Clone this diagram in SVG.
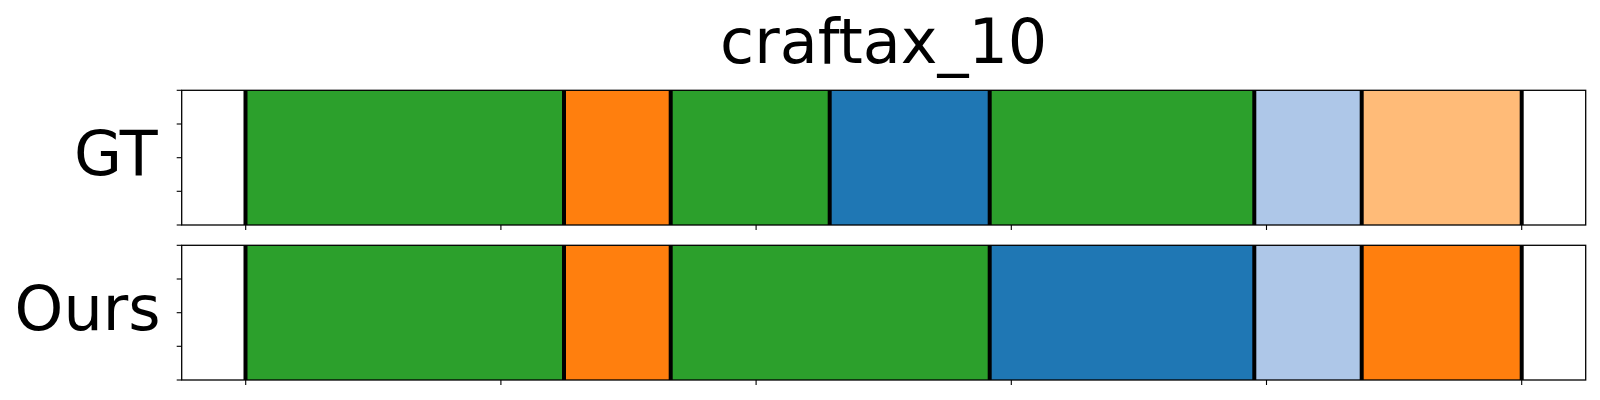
<svg xmlns="http://www.w3.org/2000/svg" width="1600" height="400" viewBox="0 0 1600 400">
<style>
.lbl{font-family:"DejaVu Sans","Liberation Sans",sans-serif;fill:#000}
.frame{fill:none;stroke:#000;stroke-width:1.3}
.tick{stroke:#000;stroke-width:1.1}
.bd{stroke:#000;stroke-width:4}
.g{fill:#2ca02c}.o{fill:#ff7f0e}.b{fill:#1f77b4}.lb{fill:#aec7e8}.lo{fill:#ffbb78}
</style>
<rect width="1600" height="400" fill="#fff"/>
<text class="lbl" x="883.7" y="62.7" font-size="62" text-anchor="middle">craftax_10</text>
<g id="gt">
<text class="lbl" x="157.7" y="175" font-size="62" text-anchor="end">GT</text>
<rect class="g" x="245.5" y="90.3" width="318.5" height="134.7"/>
<rect class="o" x="564" y="90.3" width="106.7" height="134.7"/>
<rect class="g" x="670.7" y="90.3" width="159" height="134.7"/>
<rect class="b" x="829.7" y="90.3" width="160" height="134.7"/>
<rect class="g" x="989.7" y="90.3" width="264.6" height="134.7"/>
<rect class="lb" x="1254.3" y="90.3" width="107.4" height="134.7"/>
<rect class="lo" x="1361.7" y="90.3" width="160" height="134.7"/>
<g class="bd">
<line x1="245.5" y1="90.3" x2="245.5" y2="225"/>
<line x1="564" y1="90.3" x2="564" y2="225"/>
<line x1="670.7" y1="90.3" x2="670.7" y2="225"/>
<line x1="829.7" y1="90.3" x2="829.7" y2="225"/>
<line x1="989.7" y1="90.3" x2="989.7" y2="225"/>
<line x1="1254.3" y1="90.3" x2="1254.3" y2="225"/>
<line x1="1361.7" y1="90.3" x2="1361.7" y2="225"/>
<line x1="1521.7" y1="90.3" x2="1521.7" y2="225"/>
</g>
<rect class="frame" x="181.7" y="90.3" width="1404" height="134.7"/>
<g class="tick">
<line x1="176.7" y1="90.3" x2="181.7" y2="90.3"/>
<line x1="176.7" y1="124" x2="181.7" y2="124"/>
<line x1="176.7" y1="157.7" x2="181.7" y2="157.7"/>
<line x1="176.7" y1="191.3" x2="181.7" y2="191.3"/>
<line x1="176.7" y1="225" x2="181.7" y2="225"/>
<line x1="245.7" y1="225" x2="245.7" y2="230"/>
<line x1="500.9" y1="225" x2="500.9" y2="230"/>
<line x1="756.1" y1="225" x2="756.1" y2="230"/>
<line x1="1011.3" y1="225" x2="1011.3" y2="230"/>
<line x1="1266.5" y1="225" x2="1266.5" y2="230"/>
<line x1="1521.7" y1="225" x2="1521.7" y2="230"/>
</g>
</g>
<g id="ours">
<text class="lbl" x="160.5" y="330" font-size="62" text-anchor="end">Ours</text>
<rect class="g" x="245.5" y="245.3" width="318.5" height="134.7"/>
<rect class="o" x="564" y="245.3" width="106.7" height="134.7"/>
<rect class="g" x="670.7" y="245.3" width="319" height="134.7"/>
<rect class="b" x="989.7" y="245.3" width="264.6" height="134.7"/>
<rect class="lb" x="1254.3" y="245.3" width="107.4" height="134.7"/>
<rect class="o" x="1361.7" y="245.3" width="160" height="134.7"/>
<g class="bd">
<line x1="245.5" y1="245.3" x2="245.5" y2="380"/>
<line x1="564" y1="245.3" x2="564" y2="380"/>
<line x1="670.7" y1="245.3" x2="670.7" y2="380"/>
<line x1="989.7" y1="245.3" x2="989.7" y2="380"/>
<line x1="1254.3" y1="245.3" x2="1254.3" y2="380"/>
<line x1="1361.7" y1="245.3" x2="1361.7" y2="380"/>
<line x1="1521.7" y1="245.3" x2="1521.7" y2="380"/>
</g>
<rect class="frame" x="181.7" y="245.3" width="1404" height="134.7"/>
<g class="tick">
<line x1="176.7" y1="245.3" x2="181.7" y2="245.3"/>
<line x1="176.7" y1="279" x2="181.7" y2="279"/>
<line x1="176.7" y1="312.7" x2="181.7" y2="312.7"/>
<line x1="176.7" y1="346.3" x2="181.7" y2="346.3"/>
<line x1="176.7" y1="380" x2="181.7" y2="380"/>
<line x1="245.7" y1="380" x2="245.7" y2="385"/>
<line x1="500.9" y1="380" x2="500.9" y2="385"/>
<line x1="756.1" y1="380" x2="756.1" y2="385"/>
<line x1="1011.3" y1="380" x2="1011.3" y2="385"/>
<line x1="1266.5" y1="380" x2="1266.5" y2="385"/>
<line x1="1521.7" y1="380" x2="1521.7" y2="385"/>
</g>
</g>
</svg>
